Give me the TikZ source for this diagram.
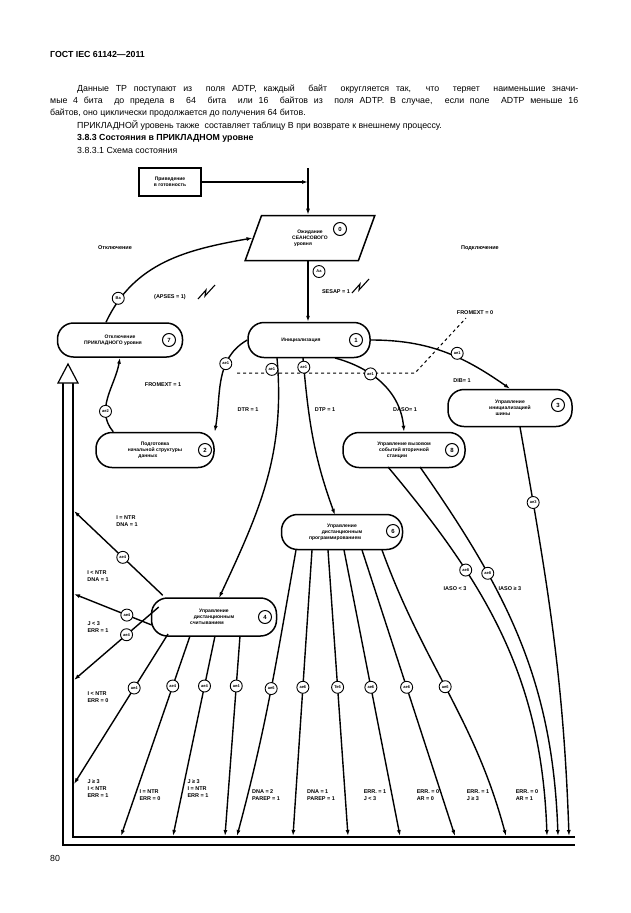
\documentclass[tikz,border=0pt]{standalone}
\usepackage{fontspec}
\setmainfont{Liberation Sans}
\usetikzlibrary{arrows.meta,shapes.geometric}
\begin{document}
\begin{tikzpicture}[x=1pt,y=-1pt,
  st/.style={draw,line width=1.5pt,rounded corners=16pt,align=center,font=\fontsize{5}{6}\selectfont\bfseries,inner sep=1pt},
  num/.style={circle,draw,line width=1pt,minimum size=13pt,inner sep=0pt,font=\fontsize{6}{6}\selectfont\bfseries},
  lab/.style={circle,draw,line width=0.9pt,fill=white,minimum size=12pt,inner sep=0pt,font=\fontsize{4}{4}\selectfont\bfseries},
  cond/.style={font=\fontsize{5.5}{7}\selectfont\bfseries,align=left,inner sep=0pt},
  ar/.style={line width=1.4pt,-{Latex[length=6pt,width=4pt]}},
  txt/.style={anchor=west,inner sep=0pt,font=\fontsize{8.8}{10}\selectfont}]
\useasboundingbox (0,0) rectangle (630,913);
% header and text
\node[txt,font=\fontsize{8.8}{10}\selectfont\bfseries] (h) at (50,54) {ГОСТ IEC 61142—2011};
\node[txt] (p1) at (77,89) {\makebox[501pt][s]{Данные TP поступают из \ поля ADTP, каждый \ байт \ округляется так, \ что \ теряет \ наименьшие значи-}};
\node[txt] (p2) at (50,101) {\makebox[528pt][s]{мые 4 бита \ до предела в \ 64 \ бита \ или 16 \ байтов из \ поля ADTP. В случае, \ если поле \ ADTP меньше 16}};
\node[txt] (p3) at (50,113) {байтов, оно циклически продолжается до получения 64 битов.};
\node[txt] (p4) at (77,125) {ПРИКЛАДНОЙ уровень также\ \ составляет таблицу В при возврате к внешнему процессу.};
\node[txt,font=\fontsize{8.8}{10}\selectfont\bfseries] (p5) at (77,138) {3.8.3 Состояния в ПРИКЛАДНОМ уровне};
\node[txt] (p6) at (77,150) {3.8.3.1 Схема состояния};
\node[txt] (pg) at (50,858) {80};
% start box
\node[draw,line width=1.5pt,minimum width=62pt,minimum height=28pt,align=center,font=\fontsize{5}{6}\selectfont\bfseries] (pr) at (170,182) {Приведение\\в готовность};
\coordinate (vt) at (308,168);
\coordinate (vj) at (308,182);
\draw[ar] (pr.east) -- (vj);
% state 0
\node[trapezium,trapezium left angle=70,trapezium right angle=110,draw,line width=1.5pt,minimum width=80pt,minimum height=45pt,align=center,font=\fontsize{5}{6}\selectfont\bfseries,inner sep=0pt] (s0) at (310,238) {Ожидание\\СЕАНСОВОГО\\уровня\hspace*{14pt}};
\node[num] (n0) at (340,229) {0};
\draw[ar] (vt) -- (s0.north -| vt);
% states
\node[st,minimum width=122pt,minimum height=35pt] (s1) at (309,340) {Инициализация\hspace*{16pt}};
\node[num] (n1) at (356,340) {1};
\node[st,minimum width=125pt,minimum height=34pt] (s7) at (120,340) {Отключение\\ПРИКЛАДНОГО уровня\hspace*{14pt}};
\node[num] (n7) at (169,340) {7};
\node[st,minimum width=118pt,minimum height=35pt] (s2) at (155,450) {Подготовка\\начальной структуры\\данных\hspace*{14pt}};
\node[num] (n2) at (205,450) {2};
\node[st,minimum width=124pt,minimum height=37pt] (s3) at (510,408) {Управление\\инициализацией\\шины\hspace*{14pt}};
\node[num] (n3) at (558,405) {3};
\node[st,minimum width=122pt,minimum height=35pt] (s8) at (404,450) {Управление вызовом\\событий вторичной\\станции\hspace*{14pt}};
\node[num] (n8) at (452,450) {8};
\node[st,minimum width=121pt,minimum height=35pt] (s6) at (342,532) {Управление\\дистанционным\\программированием\hspace*{14pt}};
\node[num] (n6) at (393,531) {6};
\node[st,minimum width=125pt,minimum height=38pt] (s4) at (214,617) {Управление\\дистанционным\\считыванием\hspace*{14pt}};
\node[num] (n4) at (265,617) {4};
% top labels
\node[cond] (lo) at (115,248) {Отключение};
\node[cond] (lp) at (480,248) {Подключение};
% 0 -> 1
\draw[ar] (s0.south -| vt) -- node[lab,pos=0.17,xshift=11pt] {Aa} (s1.north -| vt);
\node[cond] (c1) at (336,292) {SESAP = 1};
\draw[line width=1.1pt] (352,293) -- (360,284) -- (359,290) -- (369,279);
% 7 -> 0
\draw[ar] (s7.north) ++(-14pt,0) coordinate (s7t) (s7t) to[out=65,in=190] node[lab,pos=0.15,xshift=-2pt] {Ba} (s0.west);
\node[cond] (c2) at (170,297) {(APSES = 1)};
\draw[line width=1.1pt] (198,299) -- (206,290) -- (205,296) -- (215,285);
% dashed
\coordinate (d1) at (237,373);
\coordinate (d2) at (415,373);
\coordinate (d3) at (466,318);
\draw[dashed,line width=1pt] (d1) -- (d2) -- (d3);
\node[cond] (c3) at (475,313) {FROMEXT = 0};
% 1 -> 2
\draw[ar] (s1.west) to[out=210,in=80] node[lab,pos=0.33] {ae1} (s2.north east);
\node[cond] (c4) at (163,385) {FROMEXT = 1};
% 2 -> 7
\draw[ar] (s2.north west) ++(18pt,0) coordinate (s2a) (s2a) to[out=130,in=260] node[lab,pos=0.3] {ae2} (s7.south);
% 1 -> 3
\draw[ar] (s1.east) to[out=0,in=145] node[lab,pos=0.6,yshift=4pt] {ae1} (s3.north);
\node[cond] (c5) at (462,381) {DIB= 1};
% 1 -> 8
\coordinate (s1b8) at (335,358);
\draw[ar] (s1b8) to[out=-15,in=95] node[lab,pos=0.35] {ae1} (s8.north);
\node[cond] (c6) at (405,410) {DASO= 1};
% 1 -> 6
\coordinate (s1b6) at (303,358);
\draw[ar] (s1b6) to[out=-85,in=110] node[lab,pos=0.05] {ae1} (335,515);
\node[cond] (c7) at (325,410) {DTP = 1};
% 1 -> 4
\coordinate (s1b4) at (277,358);
\draw[ar] (s1b4) to[out=-85,in=65] node[lab,pos=0.04,xshift=-6pt] {ae1} (219,598);
\node[cond] (c8) at (248,410) {DTR = 1};
% bottom return bus
\coordinate (b1) at (63,383);
\coordinate (b2) at (63,845);
\coordinate (b3) at (575,845);
\coordinate (b4) at (73,383);
\coordinate (b5) at (73,837);
\coordinate (b6) at (575,837);
\draw[line width=1.2pt] (b1) -- (b2) -- (b3);
\draw[line width=1.2pt] (b4) -- (b5) -- (b6);
\draw[line width=1.2pt,fill=white] (58,383) -- (68,364) -- (78,383) -- cycle;
% state 4 left arrows
\coordinate (e1) at (74,511);
\coordinate (e2) at (74,594);
\coordinate (e3) at (74,680);
\coordinate (e4) at (74,784);
\draw[ar] (s4.north west) ++(12pt,2pt) coordinate (s4a) (s4a) -- node[lab,pos=0.45] {ae4} (e1);
\draw[ar] (s4.west) ++(1pt,-8pt) coordinate (s4b) (s4b) -- node[lab,pos=0.32] {ae4} (e2);
\draw[ar] (s4.west) ++(8pt,10pt) coordinate (s4c) (s4c) -- node[lab,pos=0.38] {ae4} (e3);
\coordinate (s4d) at (168,634);
\draw[ar] (s4d) -- node[lab,pos=0.36] {ae4} (e4);
\node[cond] (c9) at (127,521) {I = NTR\\DNA = 1};
\node[cond] (c10) at (98,576) {I < NTR\\DNA = 1};
\node[cond] (c11) at (98,627) {J < 3\\ERR = 1};
\node[cond] (c12) at (98,697) {I < NTR\\ERR = 0};
% bottom ends
\foreach \i/\x in {1/121,2/173,3/225,4/237,5/293,6/348,7/400,8/455,9/506,10/547,11/558,12/569}{\coordinate (t\i) at (\x,836);}
\coordinate (f1) at (190,636);
\coordinate (f2) at (215,636);
\coordinate (f3) at (240,636);
\draw[ar] (f1) -- node[lab,pos=0.25] {ae4} (t1);
\draw[ar] (f2) -- node[lab,pos=0.25] {ae4} (t2);
\draw[ar] (f3) -- node[lab,pos=0.25] {ae4} (t3);
% state 6 bottom
\coordinate (g4) at (296,550);
\coordinate (g5) at (312,550);
\coordinate (g6) at (328,550);
\coordinate (g7) at (344,550);
\coordinate (g8) at (362,550);
\coordinate (g9) at (382,550);
\draw[ar] (g4) to[out=-100,in=75] node[lab,pos=0.48] {ae6} (t4);
\draw[ar] (g5) -- node[lab,pos=0.48] {ae6} (t5);
\draw[ar] (g6) -- node[lab,pos=0.48] {Te6} (t6);
\draw[ar] (g7) -- node[lab,pos=0.48] {ae6} (t7);
\draw[ar] (g8) -- node[lab,pos=0.48] {ae6} (t8);
\draw[ar] (g9) to[out=-70,in=105] node[lab,pos=0.48] {ae6} (t9);
% state 8 and 3
\coordinate (h1) at (388,467);
\coordinate (h2) at (420,467);
\coordinate (h3) at (520,427);
\draw[ar] (h1) to[out=-50,in=92] node[lab,pos=0.3] {ae8} (t10);
\draw[ar] (h2) to[out=-55,in=92] node[lab,pos=0.3] {ae8} (t11);
\draw[ar] (h3) to[out=-80,in=92] node[lab,pos=0.17] {ae3} (t12);
\node[cond] (c13) at (455,589) {IASO < 3};
\node[cond] (c14) at (510,589) {IASO ≥ 3};
% bottom labels
\node[cond] (l1) at (98,789) {J ≥ 3\\I < NTR\\ERR = 1};
\node[cond] (l2) at (150,795) {I = NTR\\ERR = 0};
\node[cond] (l3) at (198,789) {J ≥ 3\\I = NTR\\ERR = 1};
\node[cond] (l4) at (266,795) {DNA = 2\\PAREP = 1};
\node[cond] (l5) at (321,795) {DNA = 1\\PAREP = 1};
\node[cond] (l6) at (375,795) {ERR. = 1\\J < 3};
\node[cond] (l7) at (428,795) {ERR. = 0\\AR = 0};
\node[cond] (l8) at (478,795) {ERR. = 1\\J ≥ 3};
\node[cond] (l9) at (527,795) {ERR. = 0\\AR = 1};
\end{tikzpicture}
\end{document}
